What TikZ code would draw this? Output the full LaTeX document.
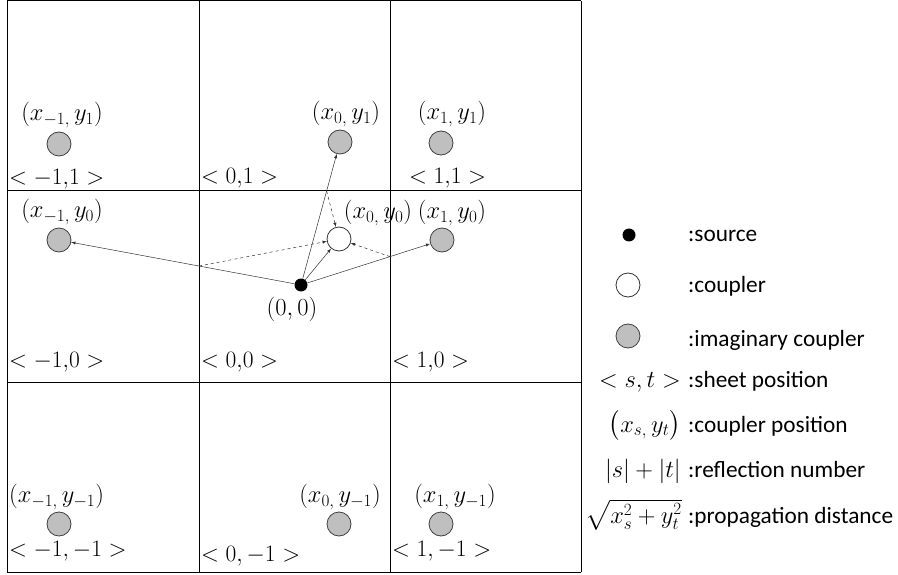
\documentclass[tikz,border=0pt]{standalone}
\usepackage{fix-cm}
\usepackage{amsmath}
\usepackage{fontspec}
\setmainfont{Carlito}
\usetikzlibrary{arrows, positioning, calc}

\begin{document}
\begin{tikzpicture}[
    x=1pt, y=-1pt,
    sheetline/.style={line width=1pt},
    img/.style={circle, draw=black!75, fill=black!25, line width=0.8pt, minimum size=24pt, inner sep=0pt},
    cpl/.style={circle, draw=black!80, fill=white, line width=0.8pt, minimum size=24pt, inner sep=0pt},
    src/.style={circle, fill=black, minimum size=13pt, inner sep=0pt},
    coordlbl/.style={font=\fontsize{24.5}{29}\selectfont, inner sep=1pt},
    sheet/.style={font=\fontsize{23.5}{28}\selectfont, anchor=west, inner sep=2pt},
    legend/.style={font=\fontsize{23.3}{28}\selectfont, anchor=base west, inner sep=0pt},
    legmath/.style={font=\fontsize{24.5}{29}\selectfont, anchor=base east, inner sep=0pt},
    arrow/.style={->, >=latex, black!80, line width=0.5pt},
    reflect/.style={arrow, dashed}
]
    \useasboundingbox (0,0) rectangle (898,575);

    % sheets
    \foreach \x in {7,199,390,581}
        \draw [sheetline] (\x,1) -- (\x,572);
    \foreach \y in {1,191,382,572}
        \draw [sheetline] (7,\y) -- (581,\y);

    \node [img] (imNW) at (59,144) {};
    \node [img] (imN) at (340,142) {};
    \node [img] (imNE) at (441,143) {};
    \node [img] (imW) at (59,240) {};
    \node [cpl] (coupler) at (339,239) {};
    \node [img] (imE) at (442,240) {};
    \node [img] (imSW) at (59,524) {};
    \node [img] (imS) at (339,524) {};
    \node [img] (imSE) at (441,524) {};
    \node [src] (source) at (301,285) {};

    \node [coordlbl] (lblNW) at (62,115) {$(x_{-1,}\,y_1)$};
    \node [coordlbl] (lblN) at (346,114) {$(x_{0,}\,y_1)$};
    \node [coordlbl] (lblNE) at (452,114) {$(x_{1,}\,y_1)$};
    \node [coordlbl] (lblW) at (62,212) {$(x_{-1,}\,y_0)$};
    \node [coordlbl] (lblC) at (378,213) {$(x_{0,}\,y_0)$};
    \node [coordlbl] (lblE) at (452,213) {$(x_{1,}\,y_0)$};
    \node [coordlbl] (lblO) at (292,309) {$(0,0)$};
    \node [coordlbl, anchor=west] (lblSW) at (8,497) {$(x_{-1,}\,y_{-1})$};
    \node [coordlbl] (lblS) at (340,497) {$(x_{0,}\,y_{-1})$};
    \node [coordlbl] (lblSE) at (455,497) {$(x_{1,}\,y_{-1})$};

    \node [sheet] (sNW) at (7,179) {$<-1{,}1>$};
    \node [sheet] (sN) at (199,178) {$<0{,}1>$};
    \node [sheet] (sNE) at (407,178) {$<1{,}1>$};
    \node [sheet] (sW) at (7,362) {$<-1{,}0>$};
    \node [sheet] (sC) at (199,362) {$<0{,}0>$};
    \node [sheet] (sE) at (390,362) {$<1{,}0>$};
    \node [sheet] (sSW) at (7,551) {$<-1,-1>$};
    \node [sheet] (sS) at (199,556) {$<0,-1>$};
    \node [sheet] (sSE) at (390,551) {$<1,-1>$};

    \draw [arrow] (source) -- (imW);
    \draw [arrow] (source) -- (imN);
    \draw [arrow] (source) -- (imE);
    \draw [arrow] (source) -- (coupler);

    % reflected paths
    \draw [reflect] (intersection of source--imW and 199,1--199,572) -- (coupler);
    \draw [reflect] (intersection of source--imN and 7,191--581,191) -- (coupler);
    \draw [reflect] (intersection of source--imE and 390,1--390,572) -- (coupler);

    % legend
    \node [src] (lgSrc) at (629,235) {};
    \node [legend] (lgSrcTxt) at (688,242) {:source};
    \node [cpl] (lgCpl) at (628,285) {};
    \node [legend] (lgCplTxt) at (688,292) {:coupler};
    \node [img] (lgImg) at (628,336) {};
    \node [legend] (lgImgTxt) at (688,346) {:imaginary coupler};
    \node [legmath] (lgSheet) at (681,387) {$<s,t>$};
    \node [legend] (lgSheetTxt) at (688,387) {:sheet position};
    \node [legmath] (lgPos) at (681,432) {$\bigl(x_{s,}\,y_t\bigr)$};
    \node [legend] (lgPosTxt) at (688,432) {:coupler position};
    \node [legmath] (lgRef) at (681,477) {$|s|+|t|$};
    \node [legend] (lgRefTxt) at (688,477) {:reflection number};
    \node [legmath] (lgDist) at (682,523) {$\sqrt{x_s^2+y_t^2}$};
    \node [legend] (lgDistTxt) at (688,523) {:propagation distance};
\end{tikzpicture}
\end{document}
